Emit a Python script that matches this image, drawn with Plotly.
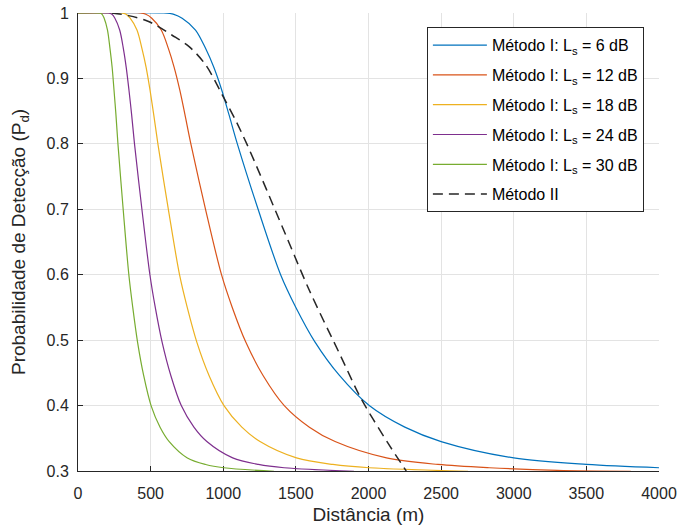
import plotly.graph_objects as go

# ---- data ----
dist_6 = [0, 590, 660, 717, 809, 878, 935, 990, 1039, 1097, 1240, 1395, 1500, 1632, 1800, 2005, 2250, 2500, 3000, 3500, 4000]
pd_6 = [1, 1, 0.998, 0.992, 0.974, 0.946, 0.917, 0.882, 0.845, 0.8, 0.7, 0.6, 0.55, 0.497, 0.446, 0.4, 0.367, 0.345, 0.320, 0.310, 0.305]

dist_12 = [0, 429, 467, 508, 573, 622, 662, 701, 736, 777, 878, 988, 1062, 1155, 1274, 1420, 1593, 1770, 2124, 2478, 2832, 3300, 3806]
pd_12 = [1, 1, 0.998, 0.992, 0.974, 0.946, 0.917, 0.882, 0.845, 0.8, 0.7, 0.6, 0.55, 0.497, 0.446, 0.4, 0.367, 0.345, 0.320, 0.310, 0.305, 0.301, 0.2995]

dist_18 = [0, 296, 331, 359, 406, 440, 469, 496, 521, 550, 622, 699, 752, 818, 902, 1005, 1128, 1253, 1504, 1755, 2005, 2685]
pd_18 = [1, 1, 0.998, 0.992, 0.974, 0.946, 0.917, 0.882, 0.845, 0.8, 0.7, 0.6, 0.55, 0.497, 0.446, 0.4, 0.367, 0.345, 0.320, 0.310, 0.305, 0.2995]

dist_24 = [0, 209, 234, 254, 287, 312, 332, 351, 369, 389, 440, 495, 532, 579, 639, 711, 798, 887, 1065, 1242, 1419, 1900]
pd_24 = [1, 1, 0.998, 0.992, 0.974, 0.946, 0.917, 0.882, 0.845, 0.8, 0.7, 0.6, 0.55, 0.497, 0.446, 0.4, 0.367, 0.345, 0.320, 0.310, 0.305, 0.2995]

dist_30 = [0, 148, 166, 180, 203, 220, 235, 248, 261, 275, 311, 350, 377, 410, 452, 503, 565, 628, 753, 879, 1004, 1350]
pd_30 = [1, 1, 0.998, 0.992, 0.974, 0.946, 0.917, 0.882, 0.845, 0.8, 0.7, 0.6, 0.55, 0.497, 0.446, 0.4, 0.367, 0.345, 0.320, 0.310, 0.305, 0.2995]

dist_m2 = [233, 348, 486, 648, 763, 878, 993, 1085, 1166, 1407, 1591, 1810, 1948, 2133, 2260]
pd_m2 = [1, 0.996, 0.987, 0.966, 0.949, 0.921, 0.875, 0.836, 0.798, 0.673, 0.577, 0.475, 0.411, 0.343, 0.30]

names = ["Método I: L<sub>s</sub> = 6 dB", "Método I: L<sub>s</sub> = 12 dB",
         "Método I: L<sub>s</sub> = 18 dB", "Método I: L<sub>s</sub> = 24 dB",
         "Método I: L<sub>s</sub> = 30 dB", "Método II"]
colors = ["#0072BD", "#D95319", "#EDB120", "#7E2F8E", "#77AC30", "#262626"]

x_ticks = [0, 500, 1000, 1500, 2000, 2500, 3000, 3500, 4000]
y_ticks = [0.3, 0.4, 0.5, 0.6, 0.7, 0.8, 0.9, 1.0]
y_tick_text = ["0.3", "0.4", "0.5", "0.6", "0.7", "0.8", "0.9", "1"]

x_title = "Distância (m)"
y_title = "Probabilidade de Detecção (P<sub>d</sub>)"

series = [(dist_6, pd_6), (dist_12, pd_12), (dist_18, pd_18),
          (dist_24, pd_24), (dist_30, pd_30), (dist_m2, pd_m2)]

FONT = "Liberation Sans, Arial, Helvetica, sans-serif"
fig = go.Figure()
for i, ((xs, ys), nm, c) in enumerate(zip(series, names, colors)):
    dashed = (i == 5)
    fig.add_trace(go.Scatter(
        x=xs, y=ys, mode="lines", name=nm, legendgroup=f"g{i}",
        line=dict(color=c, width=1.5 if dashed else 1.2,
                  dash="10px,6px" if dashed else "solid",
                  shape="spline", smoothing=0.9),
    ))

fig.update_layout(
    width=694, height=530,
    margin=dict(l=78, r=35, t=13, b=59, autoexpand=False),
    paper_bgcolor="white", plot_bgcolor="white",
    font=dict(family=FONT, size=16, color="#262626"),
    showlegend=True,
    legend=dict(
        x=0.974, y=0.969, xanchor="right", yanchor="top",
        bgcolor="white", bordercolor="#262626", borderwidth=1,
        font=dict(family=FONT, size=16, color="#000000"),
        tracegroupgap=6, itemwidth=54,
    ),
    annotations=[dict(
        text=y_title, xref="paper", yref="paper", x=-0.0998, y=0.5,
        xanchor="center", yanchor="middle", textangle=-90, showarrow=False,
        font=dict(family=FONT, size=19, color="#262626"),
    )],
)
fig.update_xaxes(
    range=[0, 4000], tickvals=x_ticks, ticktext=[str(v) for v in x_ticks],
    showgrid=True, gridcolor="#e3e3e3", gridwidth=1,
    showline=True, linecolor="#262626", linewidth=1,
    ticks="inside", ticklen=5, tickcolor="#262626",
    zeroline=False, layer="below traces", automargin=False,
    title=dict(text=x_title, font=dict(size=19, color="#262626"), standoff=6),
    tickfont=dict(size=16, color="#262626"), ticklabelstandoff=8,
)
fig.update_yaxes(
    range=[0.3, 1.0], tickvals=y_ticks, ticktext=y_tick_text,
    showgrid=True, gridcolor="#e3e3e3", gridwidth=1,
    showline=True, linecolor="#262626", linewidth=1,
    ticks="inside", ticklen=5, tickcolor="#262626",
    zeroline=False, layer="below traces", automargin=False,
    tickfont=dict(size=16, color="#262626"), ticklabelstandoff=5,
)

fig.write_html("out.html", config={"displayModeBar": False},
               post_script="document.body.style.margin='0px';")
